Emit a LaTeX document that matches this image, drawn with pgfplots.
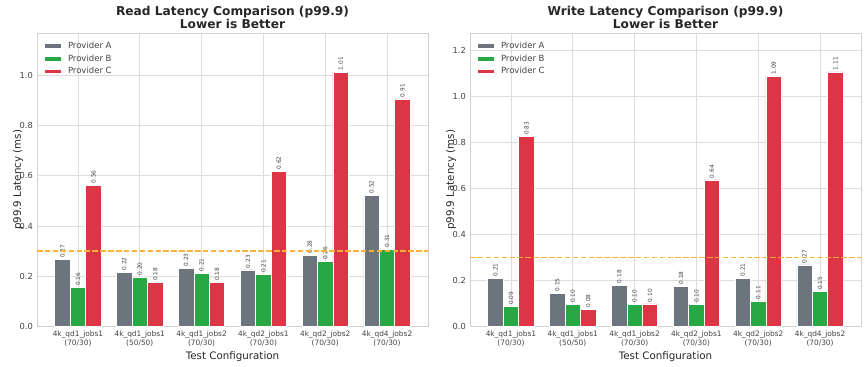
\documentclass[border=0pt]{standalone}
\usepackage{pgfplots}
\pgfplotsset{compat=1.18}
\usepackage{pgfplotstable}
\usepackage{fontspec}
\setmainfont{DejaVu Sans}
\definecolor{provA}{HTML}{6C757D}
\definecolor{provB}{HTML}{28A745}
\definecolor{provC}{HTML}{DC3545}
\definecolor{thrcol}{RGB}{255,178,55}
\definecolor{txt}{HTML}{262626}
\definecolor{tick}{HTML}{444444}
\definecolor{gridc}{HTML}{DDDDDD}
\definecolor{framec}{HTML}{D0D0D0}

\pgfplotstableread{
x A B C
0 0.267 0.156 0.562
1 0.217 0.197 0.176
2 0.233 0.213 0.176
3 0.226 0.208 0.618
4 0.284 0.258 1.012
5 0.522 0.308 0.905
}\readdata

\pgfplotstableread{
x A B C
0 0.211 0.088 0.826
1 0.146 0.096 0.076
2 0.181 0.097 0.099
3 0.176 0.096 0.637
4 0.211 0.112 1.088
5 0.268 0.152 1.106
}\writedata

\pgfplotstableread{
x y
-0.6625 0.3
5.6625 0.3
}\thrdata

\pgfplotsset{
  mystyle/.style={
    scale only axis,
    width=391pt, height=293.7pt,
    anchor=south west,
    xmin=-0.6625, xmax=5.6625, ymin=0,
    xtick={0,1,2,3,4,5},
    xticklabels={{4k\_qd1\_jobs1\\(70/30)},{4k\_qd1\_jobs1\\(50/50)},{4k\_qd1\_jobs2\\(70/30)},{4k\_qd2\_jobs1\\(70/30)},{4k\_qd2\_jobs2\\(70/30)},{4k\_qd4\_jobs2\\(70/30)}},
    xticklabel style={align=center, anchor=north, inner sep=0pt, yshift=-4pt, font=\fontsize{7.4}{8.9}\selectfont, text=tick},
    yticklabel style={font=\fontsize{8.3}{10}\selectfont, text=tick, inner sep=0pt, xshift=-4pt},
    yticklabel={\pgfmathprintnumber[fixed,fixed zerofill,precision=1]{\tick}},
    /pgf/number format/assume math mode=true,
    major tick length=0pt,
    tick style={draw=none},
    grid=major,
    major grid style={color=gridc, line width=0.8pt},
    axis line style={color=framec, line width=0.9pt},
    xlabel={Test Configuration},
    ylabel={p99.9 Latency (ms)},
    xlabel style={at={(axis description cs:0.5,0)}, anchor=base, yshift=-33pt, inner sep=0pt, font=\fontsize{10.3}{12}\selectfont, text=txt},
    ylabel style={at={(axis description cs:0,0.5)}, anchor=center, yshift=19pt, inner sep=0pt, font=\fontsize{10.3}{12}\selectfont, text=txt},
    title style={at={(axis description cs:0.5,1)}, anchor=south, align=center, yshift=-1.5pt, inner sep=0pt, font=\fontsize{12.2}{12.7}\selectfont\bfseries, text=txt},
    ybar, bar width=0.25,
    nodes near coords,
    nodes near coords style={rotate=90, anchor=west, inner sep=1.5pt, font=\fontsize{5.8}{7}\selectfont, text=tick},
    every node near coord/.append style={/pgf/number format/fixed, /pgf/number format/fixed zerofill, /pgf/number format/precision=2},
    legend style={at={(axis description cs:0.0,1)}, anchor=north west, xshift=4pt, yshift=-5pt, draw=none, fill=none,
      font=\fontsize{8.5}{10}\selectfont, text=tick, row sep=1.9pt, nodes={inner sep=1.5pt}},
    legend cell align=left,
    legend image code/.code={\fill[##1] (0pt,-2.4pt) rectangle (16.7pt,2.4pt); \path[draw=none,fill=none] (22pt,0pt) circle (0pt);},
  },
  barstyle/.style={draw=white, line width=0.6pt},
  thraxis/.style={
    scale only axis,
    width=391pt, height=293.7pt,
    anchor=south west,
    xmin=-0.6625, xmax=5.6625, ymin=0,
    hide axis,
  },
  thrstyle/.style={sharp plot, no marks, draw=thrcol, fill=none, line width=1.6pt, dash pattern=on 5.5pt off 2.4pt},
}

\begin{document}
\begin{tikzpicture}
\path[use as bounding box] (0,0) rectangle (868pt,367pt);
\begin{axis}[mystyle, at={(37pt,40.3pt)}, ymax=1.167, ytick={0,0.2,0.4,0.6,0.8,1.0},
  title={Read Latency Comparison (p99.9)\\Lower is Better}]
\addplot[barstyle, fill=provA, bar shift=-0.25] table[x=x,y=A]{\readdata};
\addplot[barstyle, fill=provB, bar shift=0] table[x=x,y=B]{\readdata};
\addplot[barstyle, fill=provC, bar shift=0.25] table[x=x,y=C]{\readdata};
\legend{Provider A, Provider B, Provider C}
\end{axis}
\begin{axis}[thraxis, at={(37pt,40.3pt)}, ymax=1.167]
\addplot[thrstyle] table[x=x,y=y]{\thrdata};
\end{axis}
\begin{axis}[mystyle, at={(470pt,40.3pt)}, ymax=1.275, ytick={0,0.2,0.4,0.6,0.8,1.0,1.2},
  title={Write Latency Comparison (p99.9)\\Lower is Better}]
\addplot[barstyle, fill=provA, bar shift=-0.25] table[x=x,y=A]{\writedata};
\addplot[barstyle, fill=provB, bar shift=0] table[x=x,y=B]{\writedata};
\addplot[barstyle, fill=provC, bar shift=0.25] table[x=x,y=C]{\writedata};
\legend{Provider A, Provider B, Provider C}
\end{axis}
\begin{axis}[thraxis, at={(470pt,40.3pt)}, ymax=1.275]
\addplot[thrstyle] table[x=x,y=y]{\thrdata};
\end{axis}
\end{tikzpicture}
\end{document}
